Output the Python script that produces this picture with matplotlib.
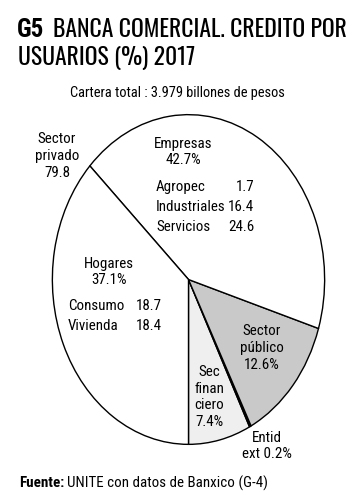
"""Banca comercial: credito por usuarios 2017 (pie)."""

import matplotlib
matplotlib.use("Agg")
import matplotlib.pyplot as plt

# Shares of the pie, counterclockwise from 6 o'clock
slice_names = ["Sec\nfinan\nciero", "Entid\next", "Sector\npúblico", "Empresas", "Hogares"]
shares = [7.4, 0.2, 12.6, 42.7, 37.1]
slice_colors = ["#efefef", "#111111", "#c9c9c9", "white", "white"]

# Breakdown of the two private sector slices
empresas_sub = ["Agropec", "Industriales", "Servicios"]
empresas_vals = [1.7, 16.4, 24.6]
hogares_sub = ["Consumo", "Vivienda"]
hogares_vals = [18.7, 18.4]
sector_privado = 79.8

W, H = 350, 500
plt.rcParams["font.family"] = ["Roboto Condensed", "Archivo Narrow",
                               "PT Sans Narrow", "DejaVu Sans"]
TITLE_FONT = ["Oswald", "Pathway Gothic One", "Roboto Condensed", "DejaVu Sans"]
FS = 10.8


def px(x, y):
    """Pixel position (from top-left) to figure fraction."""
    return x / W, 1 - y / H


fig = plt.figure(figsize=(W / 100, H / 100), dpi=100)

# pie is an ellipse: 275 px wide, 333 px tall, centre (189, 280)
ax = fig.add_axes([51 / W, 1 - 446 / H, 275 / W, 333 / H])
ax.pie(
    shares,
    colors=slice_colors,
    startangle=-90,
    counterclock=True,
    radius=1,
    wedgeprops={"edgecolor": "black", "linewidth": 1.0},
)
ax.set_aspect("auto")
ax.set_xlim(-1.01, 1.01)
ax.set_ylim(-1.01, 1.01)
ax.axis("off")

# Title
fig.text(*px(17, 37), "G5", fontsize=18, fontweight="bold", va="baseline",
         family=["Roboto Condensed", "DejaVu Sans"])
fig.text(*px(53, 37), "BANCA COMERCIAL. CREDITO POR", fontsize=17,
         fontweight="light", va="baseline", family=TITLE_FONT)
fig.text(*px(18, 65), "USUARIOS (%) 2017", fontsize=17, fontweight="light",
         va="baseline", family=TITLE_FONT)
fig.text(*px(177, 93), "Cartera total : 3.979 billones de pesos",
         fontsize=10.4, ha="center", va="center")

lab = dict(fontsize=FS, ha="center", va="center", linespacing=1.25)

fig.text(*px(57, 156), f"Sector\nprivado\n{sector_privado}", **lab)

# Empresas
fig.text(*px(183, 152), f"Empresas\n{shares[3]}%", **lab)
for i, (name, val) in enumerate(zip(empresas_sub, empresas_vals)):
    y = 187 + 20 * i
    fig.text(*px(156, y), name, fontsize=FS, ha="left", va="center")
    fig.text(*px(254, y), f"{val}", fontsize=FS, ha="right", va="center")

# Hogares
fig.text(*px(109, 272), f"Hogares\n{shares[4]}%", **lab)
for i, (name, val) in enumerate(zip(hogares_sub, hogares_vals)):
    y = 306 + 20 * i
    fig.text(*px(68, y), name, fontsize=FS, ha="left", va="center")
    fig.text(*px(162, y), f"{val}", fontsize=FS, ha="right", va="center")

fig.text(*px(262, 348), f"{slice_names[2]}\n{shares[2]}%", **lab)
fig.text(*px(209, 397), f"{slice_names[0]}\n{shares[0]}%", **lab)
fig.text(*px(267, 446), f"Entid\next {shares[1]}%", **lab)

# Source
fig.text(*px(19, 483), "Fuente:", fontsize=FS, fontweight="bold", va="center")
fig.text(*px(67, 483), "UNITE con datos de Banxico (G-4)", fontsize=FS, va="center")

fig.savefig("out.png", dpi=100)
